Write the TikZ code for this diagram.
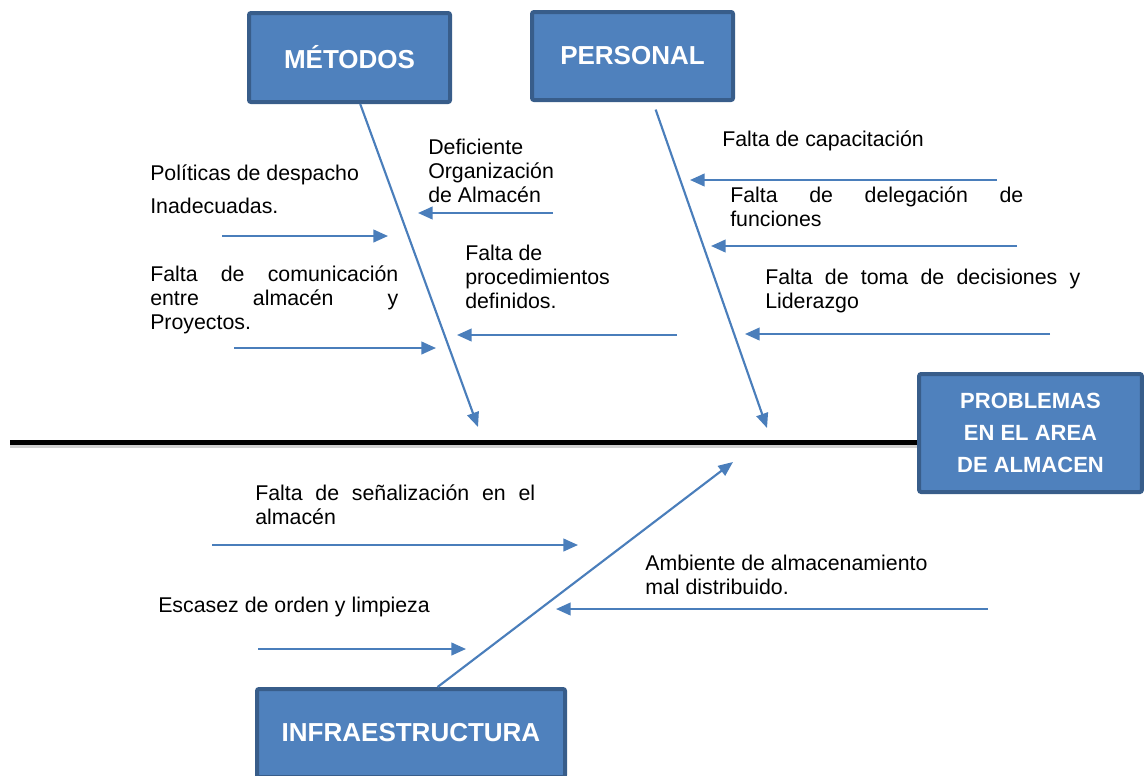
\documentclass[tikz,border=0pt]{standalone}
\usepackage{fontspec}
\setmainfont{Liberation Sans}
\usetikzlibrary{arrows.meta}
\definecolor{boxfill}{RGB}{79,129,189}
\definecolor{boxline}{RGB}{56,93,138}
\definecolor{bonecol}{RGB}{74,126,187}
\tikzset{
  catbox/.style={draw=boxline, line width=3pt, fill=boxfill, rounded corners=1.5pt,
    text=white, align=center, font=\bfseries\fontsize{19.5}{24}\selectfont},
  bone/.style={draw=bonecol, line width=1.6pt, -{Triangle[length=11pt,width=9pt]}},
  cause/.style={draw=bonecol, line width=1.6pt, -{Triangle[length=11pt,width=9.5pt]}},
  txt/.style={anchor=base west, inner sep=0pt, align=left, font=\fontsize{16}{18}\selectfont},
  jtxt/.style={txt, align=justify, text width=#1},
}
\begin{document}
\begin{tikzpicture}[x=0.75pt,y=-0.75pt]
  \useasboundingbox (0,0) rectangle (1144,775);

  % category boxes
  \node[catbox, minimum width=150.75pt, minimum height=66.75pt] (metodos) at (349.5,57.5) {MÉTODOS};
  \node[catbox, minimum width=150.75pt, minimum height=66pt] (personal) at (632.5,56) {PERSONAL};
  \node[catbox, minimum width=167pt, minimum height=88.5pt,
        font=\bfseries\fontsize{16.5}{24}\selectfont] (problema) at (1030.5,433)
        {PROBLEMAS\\EN EL AREA\\DE ALMACEN};
  \node[catbox, minimum width=231pt, minimum height=66pt] (infra) at (411,733) {INFRAESTRUCTURA};

  % spine
  \coordinate (spine) at (10,442);
  \draw[black!30, line width=3pt, opacity=.6] ([yshift=-3pt]spine) -- ([yshift=-3pt]spine -| problema.west);
  \draw[line width=3.75pt] (spine) -- (spine -| problema.west);

  % main bones
  \coordinate (mtip) at (478,427);
  \coordinate (ptip) at (767,428);
  \coordinate (itip) at (733,462);
  \draw[bone] (metodos.-77) -- (mtip);
  \draw[bone, shorten <=6pt] (personal.-66) -- (ptip);
  \draw[bone] (infra.60) -- (itip);

  % causes
  \foreach \n/\sx/\sy/\ex/\ey in {pol/222/236/388/236, def/553/213/418/213,
      com/234/348/436/348, proc/677/335/457/335, cap/997/180/690/180,
      del/1017/246/711/246, toma/1050/334/745/334, sen/212/545/578/545,
      esc/258/649/466/649, amb/988/609/556/609}
  {
    \coordinate (\n-s) at (\sx,\sy);
    \coordinate (\n-e) at (\ex,\ey);
    \draw[cause] (\n-s) -- (\n-e);
  }

  % multi-line nodes sit on their last line
  \node[txt] (pol-t) at (150,213) {Políticas de despacho\\[6.75pt]Inadecuadas.};
  \node[txt] (def-t) at (428,202) {Deficiente\\Organización\\de Almacén};
  \node[jtxt=186pt] (com-t) at (150,281) {Falta de comunicación \linebreak entre almacén y \linebreak Proyectos.};
  \node[txt] (proc-t) at (465,308) {Falta de\\procedimientos\\definidos.};
  \node[txt] (cap-t) at (722,146) {Falta de capacitación};
  \node[jtxt=219.75pt] (del-t) at (730,202) {Falta de delegación de \linebreak funciones};
  \node[jtxt=236.25pt] (toma-t) at (765,284) {Falta de toma de decisiones y \linebreak Liderazgo};
  \node[jtxt=210pt] (sen-t) at (255,500) {Falta de señalización en el \linebreak almacén};
  \node[txt] (amb-t) at (645,594) {Ambiente de almacenamiento\\mal distribuido.};
  \node[txt] (esc-t) at (158,612) {Escasez de orden y limpieza};
\end{tikzpicture}
\end{document}
